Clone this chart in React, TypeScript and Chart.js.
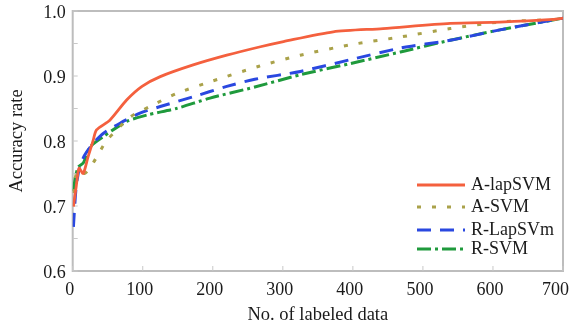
import React, { useEffect, useRef } from "react";
import { Chart, registerables } from "chart.js";

Chart.register(...registerables);

const seriesNames = ["A-lapSVM", "A-SVM", "R-LapSVm", "R-SVM"];

const redX = [1, 5, 9, 15, 22, 29, 34, 53, 77, 99, 125, 172, 220, 268, 301, 372, 443, 539, 610, 686, 700];
const redY = [0.699, 0.73, 0.758, 0.75, 0.776, 0.8, 0.817, 0.832, 0.863, 0.884, 0.899, 0.917, 0.932, 0.945, 0.953, 0.968, 0.973, 0.981, 0.983, 0.987, 0.989];

const oliveX = [1, 4, 8, 17, 29, 48, 63, 82, 110, 148, 196, 266, 325, 396, 468, 539, 610, 686, 700];
const oliveY = [0.72, 0.745, 0.755, 0.75, 0.766, 0.8, 0.817, 0.837, 0.853, 0.873, 0.891, 0.915, 0.932, 0.948, 0.96, 0.973, 0.983, 0.987, 0.989];

const blueX = [1, 5, 10, 17, 29, 44, 67, 96, 125, 172, 220, 260, 325, 396, 468, 539, 610, 700];
const blueY = [0.668, 0.73, 0.76, 0.778, 0.796, 0.812, 0.827, 0.843, 0.853, 0.868, 0.884, 0.895, 0.907, 0.925, 0.943, 0.955, 0.971, 0.989];

const greenX = [1, 4, 8, 15, 25, 44, 77, 106, 148, 196, 260, 325, 396, 468, 539, 610, 700];
const greenY = [0.723, 0.745, 0.76, 0.766, 0.791, 0.807, 0.83, 0.84, 0.85, 0.866, 0.883, 0.902, 0.919, 0.937, 0.955, 0.971, 0.989];

const xTicks = [0, 100, 200, 300, 400, 500, 600, 700];
const yTicks = [0.6, 0.7, 0.8, 0.9, 1.0];

const FONT = '"Liberation Serif", "DejaVu Serif", serif';

const pts = (xs: number[], ys: number[]) => xs.map((x, i) => ({ x, y: ys[i] }));

const framePlugin = {
  id: "frame",
  beforeDatasetsDraw(chart: any) {
    const { ctx, chartArea: a, scales } = chart;
    ctx.save();
    ctx.strokeStyle = "#bdbdbd";
    ctx.lineWidth = 2;
    ctx.strokeRect(a.left, a.top, a.right - a.left, a.bottom - a.top);
    ctx.lineWidth = 1;
    ctx.strokeStyle = "#c8c8c8";
    for (const v of xTicks) {
      const px = scales.x.getPixelForValue(v);
      ctx.beginPath();
      ctx.moveTo(px, a.bottom);
      ctx.lineTo(px, a.bottom - 5);
      ctx.stroke();
    }
    for (let v = 0.6; v <= 1.0001; v += 0.05) {
      const py = scales.y.getPixelForValue(v);
      ctx.beginPath();
      ctx.moveTo(a.left, py);
      ctx.lineTo(a.left + 5, py);
      ctx.stroke();
    }
    ctx.restore();
  },
};

const legendPlugin = {
  id: "innerLegend",
  afterDatasetsDraw(chart: any) {
    const { ctx, chartArea: a } = chart;
    const offsets = [86, 64, 41, 22];
    ctx.save();
    chart.data.datasets.forEach((ds: any, i: number) => {
      const y = a.bottom - offsets[i];
      ctx.setLineDash(ds.borderDash || []);
      ctx.strokeStyle = ds.borderColor;
      ctx.lineWidth = ds.borderWidth;
      ctx.lineCap = "butt";
      ctx.beginPath();
      ctx.moveTo(a.right - 146, y);
      ctx.lineTo(a.right - 98, y);
      ctx.stroke();
      ctx.setLineDash([]);
      ctx.fillStyle = "#1a1a1a";
      ctx.font = "18px " + FONT;
      ctx.textBaseline = "middle";
      ctx.textAlign = "left";
      ctx.fillText(ds.label, a.right - 92, y);
    });
    ctx.restore();
  },
};

export default function App() {
  const ref = useRef<HTMLCanvasElement | null>(null);
  useEffect(() => {
    if (!ref.current) return;
    const chart = new Chart(ref.current, {
      type: "line",
      data: {
        datasets: [
          {
            label: seriesNames[0],
            data: pts(redX, redY),
            borderColor: "#f4603e",
            borderWidth: 2.8,
            pointRadius: 0,
            tension: 0.25,
          },
          {
            label: seriesNames[1],
            data: pts(oliveX, oliveY),
            borderColor: "#aaa24a",
            borderWidth: 3,
            borderDash: [4, 11],
            pointRadius: 0,
            tension: 0.25,
          },
          {
            label: seriesNames[2],
            data: pts(blueX, blueY),
            borderColor: "#2a48e0",
            borderWidth: 3,
            borderDash: [14, 9],
            pointRadius: 0,
            tension: 0.25,
          },
          {
            label: seriesNames[3],
            data: pts(greenX, greenY),
            borderColor: "#1f9a3c",
            borderWidth: 3,
            borderDash: [14, 4, 3, 4],
            pointRadius: 0,
            tension: 0.25,
          },
        ],
      },
      options: {
        animation: false,
        responsive: false,
        layout: { padding: { top: 11, right: 6, left: 0, bottom: 0 } },
        plugins: { legend: { display: false }, tooltip: { enabled: false } },
        scales: {
          x: {
            type: "linear",
            min: 0,
            max: 700,
            grid: { display: false, drawTicks: false },
            border: { display: false },
            afterBuildTicks: (s: any) => {
              s.ticks = xTicks.map((v) => ({ value: v }));
            },
            afterFit: (s: any) => {
              s.height = 55;
              s.paddingLeft = 0;
              s.paddingRight = 0;
            },
            ticks: {
              color: "#1a1a1a",
              padding: 8,
              labelOffset: -3,
              maxRotation: 0,
              font: { family: FONT, size: 18 },
              callback: (v: any) => (Number(v) === 700 ? "700\u2002" : String(v)),
            },
            title: {
              display: true,
              text: "No. of labeled data",
              color: "#1a1a1a",
              font: { family: FONT, size: 18.5 },
              padding: { top: 1, bottom: 0 },
            },
          },
          y: {
            min: 0.6,
            max: 1.0,
            grid: { display: false, drawTicks: false },
            border: { display: false },
            afterBuildTicks: (s: any) => {
              s.ticks = yTicks.map((v) => ({ value: v }));
            },
            afterFit: (s: any) => {
              s.width = 72.7;
              s.paddingTop = 0;
              s.paddingBottom = 0;
            },
            ticks: {
              color: "#1a1a1a",
              padding: 7,
              labelOffset: 2,
              font: { family: FONT, size: 18 },
              callback: (v: any) => Number(v).toFixed(1),
            },
            title: {
              display: true,
              text: "Accuracy rate",
              color: "#1a1a1a",
              font: { family: FONT, size: 18.5 },
              padding: { top: 6, bottom: 0 },
            },
          },
        },
      },
      plugins: [framePlugin, legendPlugin],
    });
    return () => chart.destroy();
  }, []);
  return (
    <div style={{ position: "absolute", left: 0, top: 0, width: 569, height: 326, background: "#fff" }}>
      <canvas ref={ref} width={569} height={326} />
    </div>
  );
}
